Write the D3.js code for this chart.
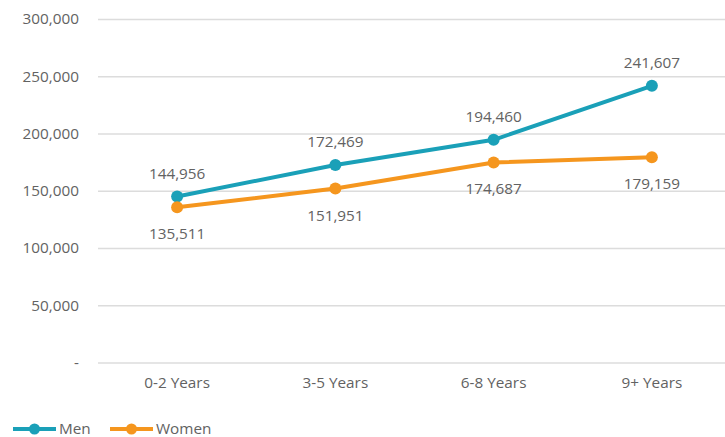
<!DOCTYPE html>
<html>
<head>
<meta charset="utf-8">
<script src="https://cdn.jsdelivr.net/npm/d3@7"></script>
<style>
  html, body { margin: 0; padding: 0; background: #fff; }
  svg { display: block; font-family: "Open Sans", "Noto Sans", sans-serif; }
</style>
</head>
<body>
<svg id="chart" width="725" height="437"></svg>
<script>
// Salary by years of experience
const categories = ["0-2 Years", "3-5 Years", "6-8 Years", "9+ Years"];
const menValues = [144956, 172469, 194460, 241607];
const womenValues = [135511, 151951, 174687, 179159];
const yTicks = [0, 50000, 100000, 150000, 200000, 250000, 300000];
const seriesNames = ["Men", "Women"];
const seriesColors = ["#1aa0b8", "#f5961e"];

const svg = d3.select("#chart");
const W = 725;
const plot = { left: 98, right: 731, top: 19, bottom: 362.5 };
const fontSize = 15.3;

const x = d3.scaleBand().domain(categories).range([plot.left, plot.right]);
const y = d3.scaleLinear().domain([0, 300000]).range([plot.bottom, plot.top]);
const fmt = d3.format(",");
const textColor = "#626262";

// gridlines + y labels
const yAxis = d3.axisLeft(y).tickValues(yTicks)
  .tickSize(-(W - plot.left))
  .tickPadding(19)
  .tickFormat(d => d === 0 ? "-" : fmt(d));
const gy = svg.append("g").attr("transform", `translate(${plot.left},0)`).call(yAxis);
gy.select(".domain").remove();
gy.selectAll(".tick line").attr("stroke", "#dcdcdc").attr("stroke-width", 1.3);
gy.selectAll(".tick text").attr("fill", textColor).attr("font-size", fontSize)
  .attr("font-family", "\"Open Sans\", sans-serif");

// category labels
const xAxis = d3.axisBottom(x).tickSize(0).tickPadding(15);
const gx = svg.append("g").attr("transform", `translate(0,${plot.bottom})`).call(xAxis);
gx.select(".domain").remove();
gx.selectAll(".tick text").attr("fill", textColor).attr("font-size", fontSize)
  .attr("font-family", "\"Open Sans\", sans-serif");

const cx = d => x(d) + x.bandwidth() / 2;
const series = [menValues, womenValues];
const line = d3.line().x((d, i) => cx(categories[i])).y(d => y(d));

series.forEach((vals, s) => {
  svg.append("path").datum(vals)
    .attr("d", line)
    .attr("fill", "none")
    .attr("stroke", seriesColors[s])
    .attr("stroke-width", 4)
    .attr("stroke-linejoin", "round");
  svg.append("g").selectAll("circle").data(vals).join("circle")
    .attr("cx", (d, i) => cx(categories[i]))
    .attr("cy", d => y(d))
    .attr("r", 6)
    .attr("fill", seriesColors[s]);
  svg.append("g").selectAll("text").data(vals).join("text")
    .attr("x", (d, i) => cx(categories[i]))
    .attr("y", d => s === 0 ? y(d) - 18 : y(d) + 32)
    .attr("text-anchor", "middle")
    .attr("fill", textColor)
    .attr("font-size", fontSize)
    .text(d => fmt(d));
});

// legend
const legend = svg.append("g").attr("transform", "translate(0,429)");
const legendX = [13, 110];
seriesNames.forEach((name, s) => {
  const g = legend.append("g").attr("transform", `translate(${legendX[s]},0)`);
  g.append("line").attr("x1", 0).attr("x2", 43).attr("y1", 0).attr("y2", 0)
    .attr("stroke", seriesColors[s]).attr("stroke-width", 4);
  g.append("circle").attr("cx", 21.5).attr("cy", 0).attr("r", 5.5).attr("fill", seriesColors[s]);
  g.append("text").attr("x", 46).attr("y", 5).attr("fill", textColor)
    .attr("font-size", fontSize).text(name);
});
</script>
</body>
</html>
